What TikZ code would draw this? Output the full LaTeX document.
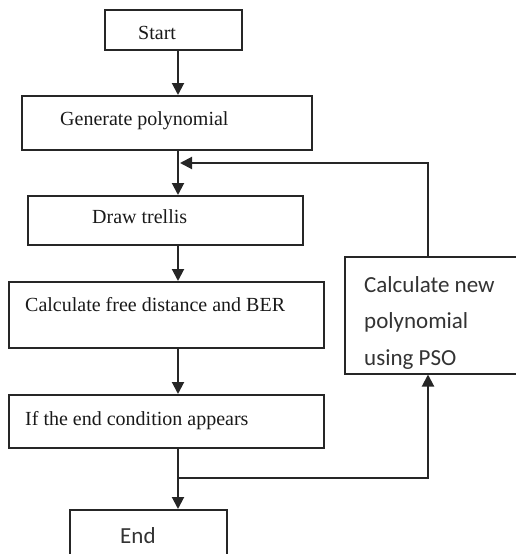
\documentclass[tikz,border=0pt]{standalone}
\usepackage{fontspec}
\setmainfont{Liberation Serif}
\newfontfamily\labelsans{Carlito}
\usepackage{tikz}
\usetikzlibrary{arrows.meta}

\tikzset{
  box/.style={draw=black!85, line width=2pt, rectangle, inner sep=0pt},
  boxtext/.style={anchor=base west, inner sep=0pt, text=black!90, font=\fontsize{20}{22}\selectfont},
  sanstext/.style={anchor=base west, inner sep=0pt, text=black!80, font=\labelsans\fontsize{23}{36.5}\selectfont, align=left},
  flow/.style={draw=black!85, line width=2pt, -{Triangle[width=12pt,length=12pt]}},
  plain/.style={draw=black!85, line width=2pt}
}

\begin{document}
\begin{tikzpicture}[x=1pt, y=-1pt]
            % fix the page and cut what runs over its edges
            \path[use as bounding box, clip] (0,0) rectangle (516,554);

            % draw boxes
            \node[box, minimum width=137pt, minimum height=40pt] (start) at (173.5,30) {};
            \node[box, minimum width=290pt, minimum height=54pt] (gen) at (167,123) {};
            \node[box, minimum width=275pt, minimum height=49pt] (trellis) at (165.5,220.5) {};
            \node[box, minimum width=315pt, minimum height=66pt] (calc) at (166.5,315) {};
            \node[box, minimum width=315pt, minimum height=53pt] (cond) at (166.5,421.5) {};
            \node[box, minimum width=185pt, minimum height=117pt] (pso) at (437.5,315) {};
            \node[box, minimum width=157pt, minimum height=70pt] (finish) at (148.5,545) {};

            % draw box texts
            \node[boxtext] (starttext) at (138,39) {Start};
            \node[boxtext] (gentext) at (60,125) {Generate polynomial};
            \node[boxtext] (trellistext) at (92,223) {Draw trellis};
            \node[boxtext] (calctext) at (25,311) {Calculate free distance and BER};
            \node[boxtext] (condtext) at (25,425) {If the end condition appears};
            \node[sanstext] (psotext) at (364,365) {Calculate new\\polynomial\\using PSO};
            \node[sanstext] (finishtext) at (120,543) {End};

            % draw main flow
            \coordinate (spine) at (178,0);
            \coordinate (back) at (428,0);
            \coordinate (merge) at (180,163);
            \coordinate (split) at (178,478);
            \draw[flow] (start.south -| spine) -- (gen.north -| spine);
            \draw[flow] (gen.south -| spine) -- (trellis.north -| spine);
            \draw[flow] (trellis.south -| spine) -- (calc.north -| spine);
            \draw[flow] (calc.south -| spine) -- (cond.north -| spine);
            \draw[flow] (cond.south -| spine) -- (finish.north -| spine);

            % draw loop back through PSO
            \draw[flow] (split) -| (pso.south -| back);
            \draw[flow] (pso.north -| back) |- (merge);
        \end{tikzpicture}
\end{document}
